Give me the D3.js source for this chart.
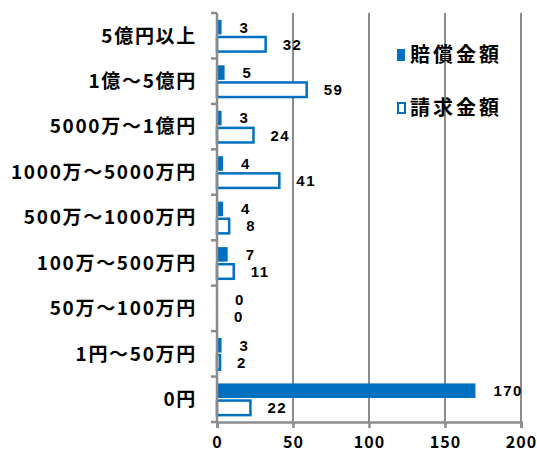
<!DOCTYPE html>
<html>
<head>
<meta charset="utf-8">
<script src="https://cdn.jsdelivr.net/npm/d3@7"></script>
<style>
  html, body { margin: 0; padding: 0; background: #fff; }
  svg { display: block; }
  text { font-family: "Noto Sans CJK JP", "Noto Sans", sans-serif; font-weight: 700; fill: #000; }
  .num { font-family: "Liberation Sans", Arial, sans-serif; font-weight: 700; }
</style>
</head>
<body>
<svg id="chart" width="537" height="453"></svg>
<script>
// Amount brackets, top to bottom
const categories = [
  "5億円以上",
  "1億～5億円",
  "5000万～1億円",
  "1000万～5000万円",
  "500万～1000万円",
  "100万～500万円",
  "50万～100万円",
  "1円～50万円",
  "0円"
];
// Number of cases per bracket
const paidValues    = [3, 5, 3, 4, 4, 7, 0, 3, 170];   // 賠償金額
const claimedValues = [32, 59, 24, 41, 8, 11, 0, 2, 22]; // 請求金額
const seriesNames = ["賠償金額", "請求金額"];
const xTicks = [0, 50, 100, 150, 200];

const blue = "#0070C0";
const grey = "#8c8c8c";

const svg = d3.select("#chart");
const plot = { left: 217, right: 521, top: 13, bottom: 422 };

const x = d3.scaleLinear().domain([0, 200]).range([plot.left, plot.right]);
const y = d3.scaleBand().domain(categories).range([plot.top, plot.bottom]).padding(0);
const sub = d3.scaleBand().domain(["paid", "claimed"])
  .range([0, y.bandwidth()]).paddingInner(0.15).paddingOuter(0.4);

// vertical gridlines
svg.append("g").selectAll("line")
  .data(xTicks.slice(1))
  .join("line")
  .attr("x1", d => x(d)).attr("x2", d => x(d))
  .attr("y1", plot.top).attr("y2", plot.bottom)
  .attr("stroke", grey).attr("stroke-width", 2);

// bars
const rows = categories.map((c, i) => ({ c, paid: paidValues[i], claimed: claimedValues[i] }));

const g = svg.append("g");
g.selectAll("rect.paid")
  .data(rows.filter(d => d.paid > 0))
  .join("rect")
  .attr("class", "paid")
  .attr("x", x(0))
  .attr("y", d => y(d.c) + sub("paid"))
  .attr("width", d => x(d.paid) - x(0))
  .attr("height", sub.bandwidth())
  .attr("fill", blue);

g.selectAll("rect.claimed")
  .data(rows.filter(d => d.claimed > 0))
  .join("rect")
  .attr("class", "claimed")
  .attr("x", x(0))
  .attr("y", d => y(d.c) + sub("claimed"))
  .attr("width", d => x(d.claimed) - x(0))
  .attr("height", sub.bandwidth())
  .attr("fill", "#fff")
  .attr("stroke", blue).attr("stroke-width", 2.5);

// value labels
const labels = svg.append("g").attr("font-size", 15).attr("letter-spacing", 1.5);
labels.selectAll("text.paid")
  .data(rows)
  .join("text")
  .attr("class", "num")
  .attr("x", d => x(d.paid) + 18)
  .attr("y", d => y(d.c) + sub("paid") + sub.bandwidth() / 2)
  .attr("dy", "0.36em")
  .text(d => d.paid);
labels.selectAll("text.claimed")
  .data(rows)
  .join("text")
  .attr("class", "num")
  .attr("x", d => x(d.claimed) + 17)
  .attr("y", d => y(d.c) + sub("claimed") + sub.bandwidth() / 2)
  .attr("dy", "0.36em")
  .text(d => d.claimed);

// y axis
const yAxis = svg.append("g")
  .attr("transform", `translate(${plot.left},0)`);
yAxis.append("line")
  .attr("y1", plot.top).attr("y2", plot.bottom + 1)
  .attr("stroke", grey).attr("stroke-width", 2.5);
yAxis.selectAll("line.tick")
  .data(d3.range(categories.length + 1))
  .join("line")
  .attr("class", "tick")
  .attr("x1", -6).attr("x2", 0)
  .attr("y1", i => plot.top + i * y.step())
  .attr("y2", i => plot.top + i * y.step())
  .attr("stroke", grey).attr("stroke-width", 2.5);
yAxis.selectAll("text")
  .data(categories)
  .join("text")
  .attr("x", -20)
  .attr("y", d => y(d) + y.bandwidth() / 2)
  .attr("dy", "0.36em")
  .attr("text-anchor", "end")
  .attr("font-size", 19)
  .attr("letter-spacing", 1.7)
  .text(d => d);

// x axis
const xAxis = svg.append("g")
  .attr("transform", `translate(0,${plot.bottom})`)
  .call(d3.axisBottom(x).tickValues(xTicks).tickSize(6).tickPadding(9).tickFormat(d3.format("d")));
xAxis.select(".domain").attr("stroke", grey).attr("stroke-width", 2.5);
xAxis.selectAll(".tick line").attr("stroke", grey).attr("stroke-width", 2.5);
xAxis.selectAll(".tick text")
  .attr("font-size", 16)
  .attr("letter-spacing", 1)
  .attr("font-family", "'Liberation Sans', Arial, sans-serif")
  .attr("font-weight", 700)
  .attr("fill", "#000");

// legend
const legend = svg.append("g").attr("transform", "translate(397,0)");
const legendRows = [
  { name: seriesNames[0], y: 55, filled: true },
  { name: seriesNames[1], y: 108, filled: false }
];
legend.selectAll("rect")
  .data(legendRows)
  .join("rect")
  .attr("x", d => d.filled ? 0 : 1)
  .attr("y", d => d.y - (d.filled ? 6 : 5))
  .attr("width", d => d.filled ? 8 : 7)
  .attr("height", d => d.filled ? 12 : 10)
  .attr("fill", d => d.filled ? blue : "#fff")
  .attr("stroke", d => d.filled ? "none" : blue)
  .attr("stroke-width", 2);
legend.selectAll("text")
  .data(legendRows)
  .join("text")
  .attr("x", 13)
  .attr("y", d => d.y)
  .attr("dy", "0.36em")
  .attr("font-size", 20)
  .attr("letter-spacing", 3)
  .text(d => d.name);
</script>
</body>
</html>
